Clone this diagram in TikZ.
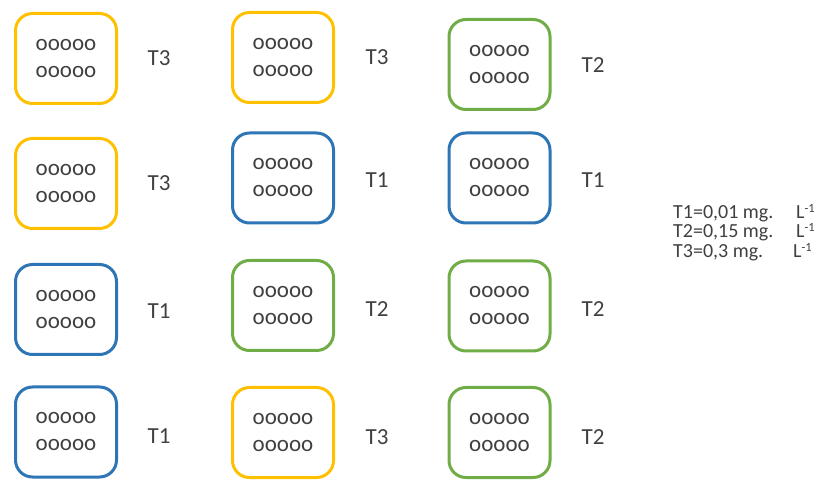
\documentclass[tikz,border=0pt]{standalone}
\usepackage{fontspec}
\setmainfont{Carlito}
\definecolor{ty}{HTML}{FFC000}
\definecolor{tb}{HTML}{2E75B6}
\definecolor{tg}{HTML}{70AD47}
\definecolor{tx}{HTML}{404040}
\tikzset{
  tank/.style={draw=#1, line width=3pt, rounded corners=17pt, minimum width=101pt, minimum height=90pt,
    align=center, inner sep=0pt, text=tx, font=\fontsize{23}{27}\selectfont},
  lab/.style={text=tx, font=\fontsize{23}{27}\selectfont, inner sep=0pt},
  legline/.style={text=tx, font=\fontsize{20}{19}\selectfont, inner sep=0pt, anchor=base west},
}
\newcommand{\oo}{ooooo\\ooooo}
\newcommand{\unitL}{L\raisebox{6pt}{\fontsize{12.5}{12}\selectfont -1}}
\newcommand{\legtext}[2]{\makebox[#1][l]{#2}\unitL}
\begin{document}
\begin{tikzpicture}[x=1pt,y=-1pt]
\useasboundingbox (0,0) rectangle (823,481);
% column 1
\node[tank=ty] (a1) at (66,58.5) {\oo};
\node[tank=ty] (a2) at (66,183.5) {\oo};
\node[tank=tb] (a3) at (66,309.5) {\oo};
\node[tank=tb] (a4) at (66,432) {\oo};
\node[lab] (la1) at (159,58.5) {T3};
\node[lab] (la2) at (159,183.5) {T3};
\node[lab] (la3) at (159,311) {T1};
\node[lab] (la4) at (159,436) {T1};
% column 2
\node[tank=ty] (b1) at (283,57.5) {\oo};
\node[tank=tb] (b2) at (283,178) {\oo};
\node[tank=tg] (b3) at (283,305.5) {\oo};
\node[tank=ty] (b4) at (283,432.5) {\oo};
\node[lab] (lb1) at (377,57.5) {T3};
\node[lab] (lb2) at (377,180) {T1};
\node[lab] (lb3) at (377,309) {T2};
\node[lab] (lb4) at (377,437) {T3};
% column 3
\node[tank=tg] (c1) at (499.5,64.5) {\oo};
\node[tank=tb] (c2) at (499.5,178) {\oo};
\node[tank=tg] (c3) at (499.5,306) {\oo};
\node[tank=tg] (c4) at (499.5,432.5) {\oo};
\node[lab] (lc1) at (593,65) {T2};
\node[lab] (lc2) at (593,180) {T1};
\node[lab] (lc3) at (593,309) {T2};
\node[lab] (lc4) at (593,437) {T2};
% legend
\node[legline] (leg1) at (673,218.5) {\legtext{123pt}{T1=0,01 mg.}};
\node[legline] (leg2) at (673,238) {\legtext{123pt}{T2=0,15 mg.}};
\node[legline] (leg3) at (673,257.5) {\legtext{120pt}{T3=0,3 mg.}};
\end{tikzpicture}
\end{document}
